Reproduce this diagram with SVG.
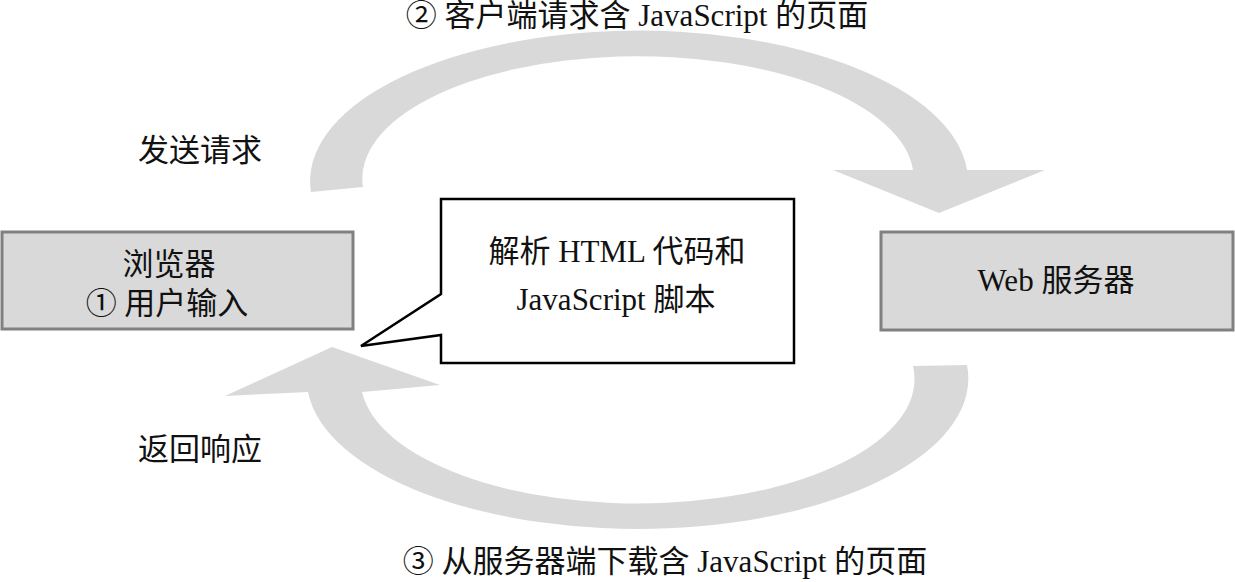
<svg xmlns="http://www.w3.org/2000/svg" width="1235" height="582" viewBox="0 0 1235 582">
<style>
text{font-family:"Liberation Serif","Noto Sans CJK SC",serif;font-size:31px;fill:#111}
.box{fill:#d9d9d9;stroke:#808080;stroke-width:3}
.arrow{fill:#d9d9d9;stroke:none}
.callout{fill:#fff;stroke:#000;stroke-width:2.5;stroke-linejoin:miter}
</style>
<rect width="1235" height="582" fill="#fff"/>
<g id="connectors">
<path class="arrow" d="M311,192 A328,150 0 0 1 967,170 L1045,170 L939,213 L833,170 L913,170 A275,122 0 0 0 363,187 Z"/>
<path class="arrow" d="M967,365 A330,150 0 0 1 308,392 L225,396 L332,347 L440,385 L362,392 A276,124 0 0 0 913,366 Z"/>
</g>
<g id="browser">
<rect class="box" x="2" y="232" width="351" height="97"/>
<text x="169" y="275" text-anchor="middle">浏览器</text>
<text x="167" y="314" text-anchor="middle">① 用户输入</text>
</g>
<g id="server">
<rect class="box" x="881" y="232" width="352" height="98"/>
<text x="1056" y="291" text-anchor="middle">Web 服务器</text>
</g>
<g id="parse">
<path class="callout" d="M441,199 L794,199 L794,363 L441,363 L441,335 L361,346 L441,294 Z"/>
<text x="617" y="262" text-anchor="middle">解析 HTML 代码和</text>
<text x="616" y="310" text-anchor="middle">JavaScript 脚本</text>
</g>
<g id="labels">
<text x="637" y="26" text-anchor="middle">② 客户端请求含 JavaScript 的页面</text>
<text x="665" y="572" text-anchor="middle">③ 从服务器端下载含 JavaScript 的页面</text>
<text x="138" y="161">发送请求</text>
<text x="138" y="460">返回响应</text>
</g>
</svg>
